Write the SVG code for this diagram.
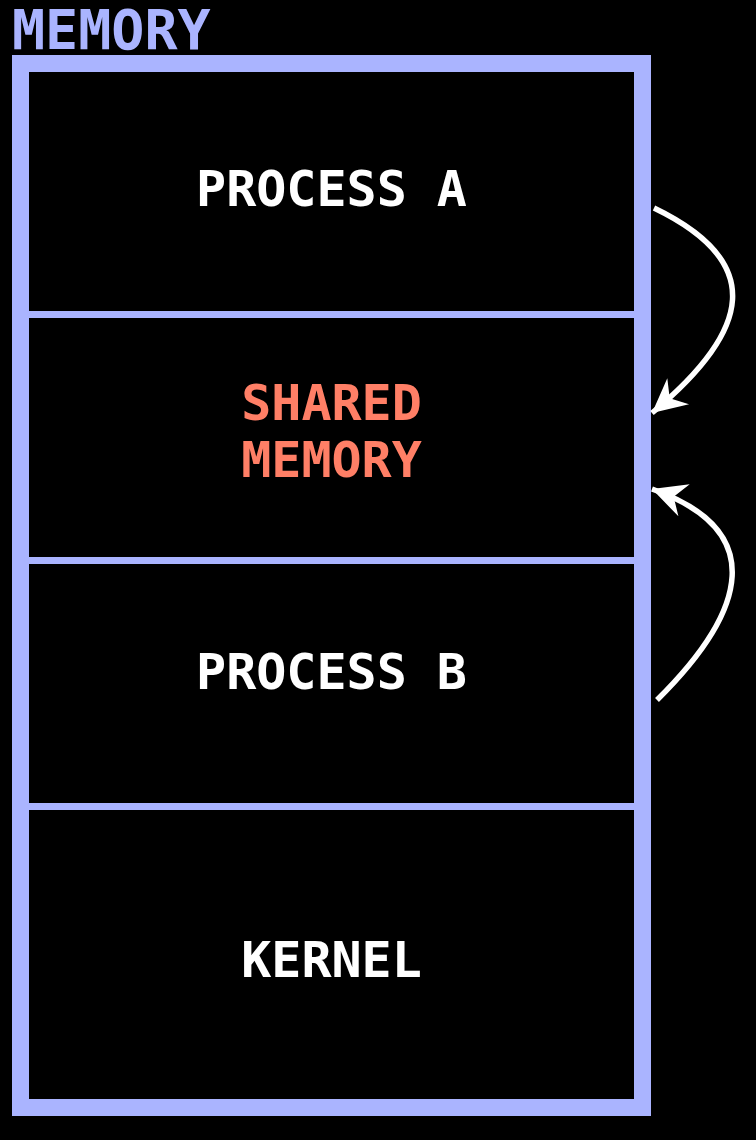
<svg xmlns="http://www.w3.org/2000/svg" width="756" height="1140" viewBox="0 0 756 1140">
<style>
.lbl{font-family:"DejaVu Sans Mono","Liberation Mono",monospace;font-weight:bold;font-size:50px;text-anchor:middle;fill:#ffffff}
.sh{fill:#ff7f66}
.div{stroke:#aab4ff;stroke-width:7}
.arr{fill:none;stroke:#ffffff;stroke-width:5.5;marker-end:url(#ah)}
</style>
<defs>
<marker id="ah" markerUnits="userSpaceOnUse" markerWidth="46" markerHeight="48" viewBox="-40 -24 46 48" refX="0" refY="0" orient="auto">
<path d="M0,0 L-34,-17 L-23,0 L-34,17 Z" fill="#ffffff"/>
</marker>
</defs>
<rect width="756" height="1140" fill="#000000"/>
<g id="title">
<text x="12" y="49" style="font-family:'DejaVu Sans Mono','Liberation Mono',monospace;font-weight:bold;font-size:55px;fill:#aab4ff">MEMORY</text>
</g>
<g id="memory">
<rect x="20.5" y="63.5" width="622" height="1044" fill="none" stroke="#aab4ff" stroke-width="17"/>
<line class="div" x1="29" y1="314.5" x2="634" y2="314.5"/>
<line class="div" x1="29" y1="560.5" x2="634" y2="560.5"/>
<line class="div" x1="29" y1="806.5" x2="634" y2="806.5"/>
</g>
<g id="process-a"><text class="lbl" x="331.5" y="206">PROCESS A</text></g>
<g id="shared-memory"><text class="lbl sh" x="331.5" y="420">SHARED</text><text class="lbl sh" x="331.5" y="477">MEMORY</text></g>
<g id="process-b"><text class="lbl" x="331.5" y="689">PROCESS B</text></g>
<g id="kernel"><text class="lbl" x="331.5" y="977">KERNEL</text></g>
<g id="connectors">
<path class="arr" d="M654,208 C766,262 752,330 652,413"/>
<path class="arr" d="M657,700 C748,610 768,530 652,489"/>
</g>
</svg>
